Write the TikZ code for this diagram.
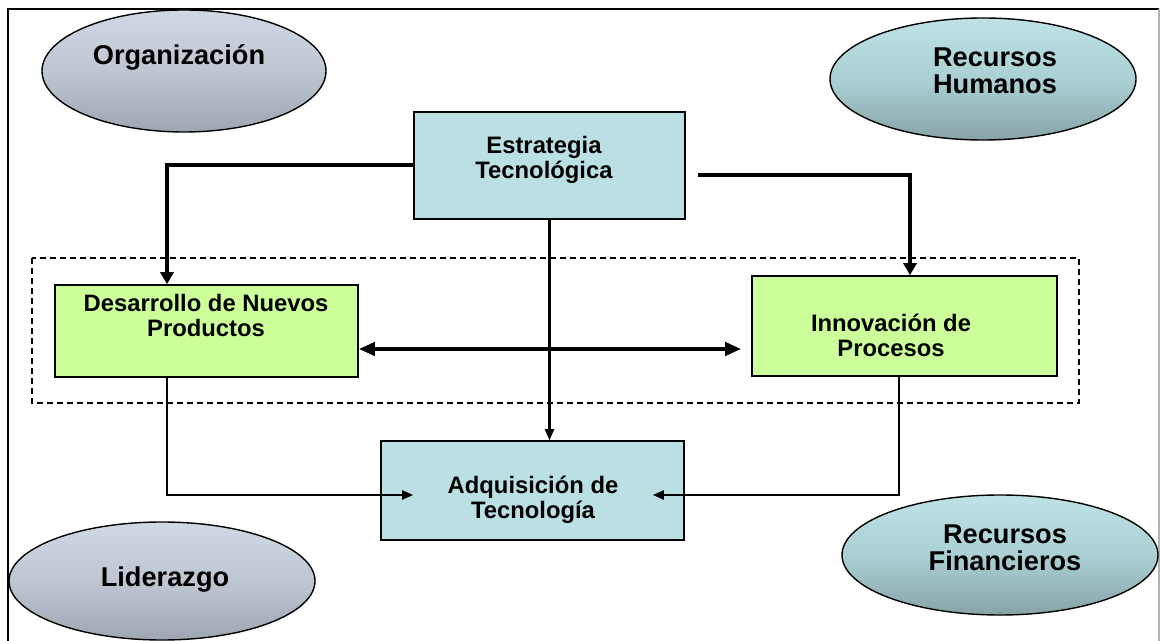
\documentclass[tikz,border=0pt]{standalone}
\usepackage{fontspec}
\setmainfont{Liberation Sans}
\usetikzlibrary{calc,positioning,arrows.meta,shapes.geometric}

\definecolor{boxteal}{RGB}{187,224,227}
\definecolor{boxgreen}{RGB}{204,255,153}
\definecolor{greytop}{RGB}{208,216,228}
\definecolor{greymid}{RGB}{190,198,210}
\definecolor{greybot}{RGB}{158,166,178}
\definecolor{tealtop}{RGB}{190,226,230}
\definecolor{tealmid}{RGB}{170,208,212}
\definecolor{tealbot}{RGB}{136,163,166}

\begin{document}
\begin{tikzpicture}[x=0.5pt,y=-0.5pt]
\tikzset{greyell/.style={ellipse,draw,line width=0.7pt,inner sep=0,top color=greytop,bottom color=greybot,middle color=greymid},
tealell/.style={ellipse,draw,line width=0.7pt,inner sep=0,top color=tealtop,bottom color=tealbot,middle color=tealmid},
tealbox/.style={rectangle,draw,line width=0.8pt,inner sep=0,fill=boxteal},
greenbox/.style={rectangle,draw,line width=0.8pt,inner sep=0,fill=boxgreen},
ellabel/.style={font=\fontsize{13.6}{13.5}\selectfont\bfseries,align=center,inner sep=0},
boxlabel/.style={font=\fontsize{11.9}{12.5}\selectfont\bfseries,align=center,inner sep=0},
thickarrow/.style={line width=2pt,-{Triangle[width=6.5pt,length=6pt]}},
thinarrow/.style={line width=1.1pt,-{Triangle[width=4.5pt,length=5.5pt]}}}

\useasboundingbox (0,0) rectangle (1161,641);
\draw[line width=1pt] (8,641) -- (8,9) -- (1159,9);
\draw[gray!60,line width=0.6pt] (1159,9) -- (1159,641);

\node (org) [greyell,minimum width=142pt,minimum height=61pt] at (184,71) {};
\node (rh) [tealell,minimum width=153pt,minimum height=61pt] at (983,79) {};
\node (lid) [greyell,minimum width=153pt,minimum height=59pt] at (162,581) {};
\node (rf) [tealell,minimum width=158pt,minimum height=60pt] at (1000,555) {};

\draw[dashed,dash pattern=on 3pt off 2pt,line width=0.7pt] (32,258) rectangle (1079,403);

\node (estr) [tealbox,minimum width=135.5pt,minimum height=53.5pt] at (549.5,165.5) {};
\node (dnp) [greenbox,minimum width=151.5pt,minimum height=46pt] at (206.5,331) {};
\node (inp) [greenbox,minimum width=152.5pt,minimum height=50pt] at (904.5,326) {};
\node (adq) [tealbox,minimum width=151.5pt,minimum height=49.5pt] at (532.5,490.5) {};

\foreach \u/\lab/\x/\y in {org/Organización/179/57, rh/{Recursos\\Humanos}/995/71,
  lid/Liderazgo/165/580, rf/{Recursos\\Financieros}/1005/548}
  \node (\u-t) [ellabel] at (\x,\y) {\lab};
\foreach \u/\lab/\x/\y in {estr/{Estrategia\\Tecnológica}/544/160, dnp/{Desarrollo de Nuevos\\Productos}/206/315,
  inp/{Innovación de\\Procesos}/891/335, adq/{Adquisición de\\Tecnología}/533/500}
  \node (\u-t) [boxlabel] at (\x,\y) {\lab};

%% Edges
\draw[thickarrow] (estr.west) -| ($(dnp.north)+(-39.5,0)$);
\draw[thickarrow] ($(estr.east)+(12,9.5)$) -| ($(inp.north)+(5.5,0)$);
\draw[thinarrow] (estr.south) -- (estr.south |- adq.north);
\draw[line width=2pt,{Triangle[width=6.5pt,length=8pt]}-{Triangle[width=6.5pt,length=8pt]}]
  ($(dnp.east)+(0,18)$) -- ($(inp.west |- dnp.east)+(-10,18)$);
\draw[thinarrow] ($(dnp.south)+(-39.5,0)$) |- ($(adq.west)+(33,4.5)$);
\draw[thinarrow] ($(inp.south)+(-5.5,0)$) |- ($(adq.east)+(-32,4.5)$);

\end{tikzpicture}
\end{document}
